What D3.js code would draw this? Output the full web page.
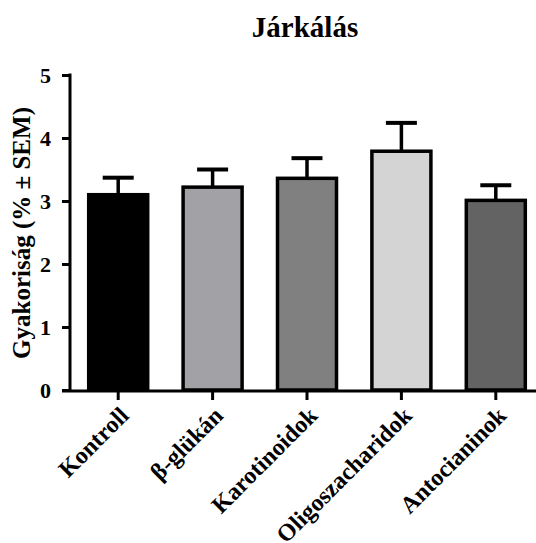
<!DOCTYPE html>
<html><head><meta charset="utf-8">
<script src="https://cdn.jsdelivr.net/npm/d3@7"></script>
<style>body{margin:0;background:#fff}svg{display:block}text{font-family:"Liberation Serif","Times New Roman",serif;font-weight:bold;fill:#000}</style>
</head><body>
<script>
const categories = ["Kontroll","β-glükán","Karotinoidok","Oligoszacharidok","Antocianinok"];
const means = [3.10, 3.22, 3.36, 3.79, 3.01];
const sems = [0.27, 0.28, 0.32, 0.45, 0.24];
const fills = ["#000000","#a2a1a6","#808080","#d4d4d4","#636363"];
const yTicks = [0,1,2,3,4,5];
const title = "Járkálás";
const yLabel = "Gyakoriság (% ± SEM)";

const W = 536, H = 543;
const svg = d3.select("body").append("svg").attr("width", W).attr("height", H);

const y = d3.scaleLinear().domain([0,5]).range([390,75]);
const x = d3.scaleBand().domain(categories).range([71,543]).paddingInner(0.36).paddingOuter(0.18);

// bars
const g = svg.append("g");
categories.forEach((c,i)=>{
  const cx = x(c) + x.bandwidth()/2;
  const top = y(means[i]);
  const capY = y(means[i]+sems[i]);
  g.append("line").attr("x1",cx).attr("x2",cx).attr("y1",top).attr("y2",capY).attr("stroke","#000").attr("stroke-width",3.5);
  g.append("line").attr("x1",cx-15.5).attr("x2",cx+15.5).attr("y1",capY).attr("y2",capY).attr("stroke","#000").attr("stroke-width",4);
  g.append("rect").attr("x",cx-29.5).attr("width",59).attr("y",top).attr("height",y(0)-top)
    .attr("fill",fills[i]).attr("stroke","#000").attr("stroke-width",3.5);
});

// y axis
const ya = svg.append("g").attr("transform","translate(70,0)")
  .call(d3.axisLeft(y).tickValues(yTicks).tickFormat(d3.format("d")).tickSize(8).tickPadding(11));
ya.select(".domain").attr("stroke","#000").attr("stroke-width",3).attr("d","M0,"+(y(5)-1.5)+"V"+(y(0)+1.5));
ya.selectAll(".tick line").attr("stroke","#000").attr("stroke-width",3);
ya.selectAll(".tick text").style("font-size","22px").style("font-family","'Liberation Serif',serif").style("font-weight","bold").attr("dy","0.35em");

// x axis
const xa = svg.append("g").attr("transform","translate(0,"+(y(0)+1)+")")
  .call(d3.axisBottom(x).tickSize(9).tickPadding(6));
xa.select(".domain").attr("stroke","#000").attr("stroke-width",3).attr("d","M62,0H536");
xa.selectAll(".tick line").attr("stroke","#000").attr("stroke-width",3);
xa.selectAll(".tick text")
  .style("font-size","24px").style("font-family","'Liberation Serif',serif").style("font-weight","bold")
  .attr("text-anchor","end").attr("dy","0.35em")
  .attr("transform","translate(6,20) rotate(-45)").attr("y",0).attr("x",0);

// title
svg.append("text").attr("x",305).attr("y",37).attr("text-anchor","middle").style("font-size","29px").text(title);

// y label
svg.append("text").attr("transform","translate(30,233) rotate(-90)").attr("text-anchor","middle").style("font-size","25px").text(yLabel);
</script>
</body></html>
